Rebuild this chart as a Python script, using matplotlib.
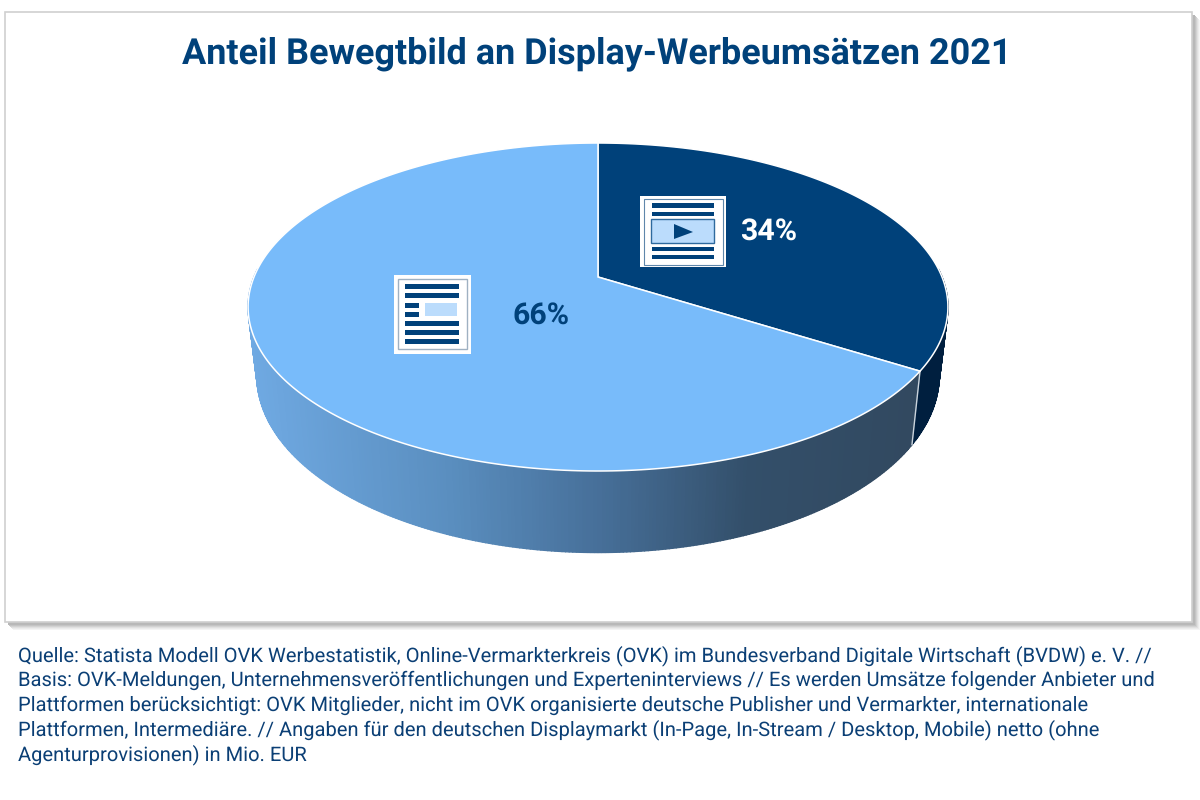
import numpy as np
import matplotlib
matplotlib.use("Agg")
import matplotlib.pyplot as plt
from matplotlib.patches import Polygon, Rectangle
from matplotlib.colors import LinearSegmentedColormap

#data
title = "Anteil Bewegtbild an Display-Werbeumsätzen 2021"
shares = [34, 66]   # Bewegtbild, Rest
footer_lines = [
    "Quelle: Statista Modell OVK Werbestatistik, Online-Vermarkterkreis (OVK) im Bundesverband Digitale Wirtschaft (BVDW) e. V. //",
    "Basis: OVK-Meldungen, Unternehmensveröffentlichungen und Experteninterviews // Es werden Umsätze folgender Anbieter und",
    "Plattformen berücksichtigt: OVK Mitglieder, nicht im OVK organisierte deutsche Publisher und Vermarkter, internationale",
    "Plattformen, Intermediäre. // Angaben für den deutschen Displaymarkt (In-Page, In-Stream / Desktop, Mobile) netto (ohne",
    "Agenturprovisionen) in Mio. EUR",
]

NAVY = "#00417a"
LIGHT = "#78bbfa"
PALE = "#bbdcfc"
TEXT = "#0b3f75"

plt.rcParams['font.family'] = ['Roboto', 'DejaVu Sans']
plt.rcParams['text.hinting'] = 'no_hinting'  # widths scale evenly with font size

fig = plt.figure(figsize=(12, 8), dpi=100)
ax = fig.add_axes([0, 0, 1, 1])
ax.set_xlim(0, 1200)
ax.set_ylim(800, 0)
ax.axis("off")

#panel with soft shadow
for off, col in [(8, "#f4f4f4"), (7, "#ebebeb"), (6, "#e0e0e0"), (5, "#d2d2d2"), (4, "#c4c4c4"), (3, "#b8b8b8")]:
    ax.add_patch(Rectangle((5 + off, 12 + off), 1187, 610, fc=col, ec="none", zorder=1))
ax.add_patch(Rectangle((5, 12), 1187, 610, fc="white", ec="#d0d0d0", lw=1.2, zorder=2))

ax.text(596.5, 54, title, color=NAVY, fontsize=25.95, fontweight="bold",
        ha="center", va="center", zorder=5)


#perspective for the pie: top disc and bottom disc
def project(angle, bottom=False):
    # angle is clockwise from 12 o'clock
    u, v = np.sin(angle), np.cos(angle)
    w = 1 + 0.183 * v
    if bottom:
        return 598 + 0.975 * 344 * u / w, 343 - 1.08 * 158.5 * v / w
    return 598 + 344 * u / w, 277 - 158.5 * v / w


#slice angles from the shares
edges = 2 * np.pi * np.cumsum([0] + shares) / sum(shares)

#side wall, only the part that can be seen, drawn back to front
wall_cmap = LinearSegmentedColormap.from_list(
    "wall", [(0, "#6fa9e2"), (0.3, "#5a8ebf"), (0.52, "#47709a"), (0.75, "#334f6a"), (1, "#324960")])
angles = np.linspace(0, 2 * np.pi, 721)
order = np.argsort(-np.cos(angles[:-1] + np.pi / 720))
for i in order:
    a0, a1 = angles[i], angles[i + 1]
    mid = (a0 + a1) / 2
    if np.cos(mid) > 0.05:
        continue
    x0, y0 = project(a0)
    x1, y1 = project(a1)
    x2, y2 = project(a1, True)
    x3, y3 = project(a0, True)
    if mid < edges[1]:
        col = "#001f3f"
    else:
        col = wall_cmap(np.clip((((x0 + x1) / 2) - 250) / 665, 0, 1))
    ax.add_patch(Polygon([(x0, y0), (x1, y1), (x2, y2), (x3, y3)], fc=col, ec=col,
                         lw=1, zorder=3))

#white line where the two wall parts meet
xa, ya = project(edges[1])
xb, yb = project(edges[1], True)
ax.plot([xa, xb], [ya, yb], color="#c9d3dc", lw=1, zorder=3.5)

#top disc slices
for i, col in enumerate([NAVY, LIGHT]):
    t = np.linspace(edges[i], edges[i + 1], 300)
    px, py = project(t)
    xy = np.column_stack([np.r_[598, px], np.r_[277, py]])
    ax.add_patch(Polygon(xy, closed=True, fc=col, ec="white", lw=1.1, zorder=4))

#left icon (text page)
ax.add_patch(Rectangle((394, 275), 77, 79, fc="white", ec="none", zorder=5))
ax.add_patch(Rectangle((398, 279), 69, 70, fc="white", ec="#9fb1c2", lw=1, zorder=5))
for y, h, x0, x1 in [(284, 5, 405, 459), (293, 5, 405, 459), (303, 4.5, 405, 419), (312, 4.5, 405, 419),
                     (321, 5, 405, 459), (330, 5, 405, 459), (339, 5, 405, 459)]:
    ax.add_patch(Rectangle((x0, y), x1 - x0, h, fc=NAVY, ec="none", zorder=6))
ax.add_patch(Rectangle((425, 303), 32, 13, fc=PALE, ec="none", zorder=6))

#right icon (video page)
ax.add_patch(Rectangle((640, 196), 86, 71, fc="white", ec="none", zorder=5))
ax.add_patch(Rectangle((644, 199), 79, 66, fc="white", ec="#5f87ab", lw=0.8, zorder=5))
for y, h in [(203, 5), (212, 4), (247, 4), (255, 4)]:
    ax.add_patch(Rectangle((652, y), 62, h, fc=NAVY, ec="none", zorder=6))
ax.add_patch(Rectangle((651, 219), 63, 24, fc=PALE, ec="#2e6a9e", lw=1, zorder=6))
ax.add_patch(Polygon([(674, 224), (674, 239), (693, 232)], fc=NAVY, ec="none", zorder=7))

#percent labels
ax.text(769, 231, f"{shares[0]}%", color="white", fontsize=21.8, fontweight="bold",
        ha="center", va="center", zorder=7)
ax.text(541.5, 315, f"{shares[1]}%", color=NAVY, fontsize=21.8, fontweight="bold",
        ha="center", va="center", zorder=7)

#footer
for i, line in enumerate(footer_lines):
    ax.text(18, 655.5 + i * 24.8, line, color=TEXT, fontsize=14.5, ha="left", va="center", zorder=5)

fig.savefig("out.png", dpi=100)
